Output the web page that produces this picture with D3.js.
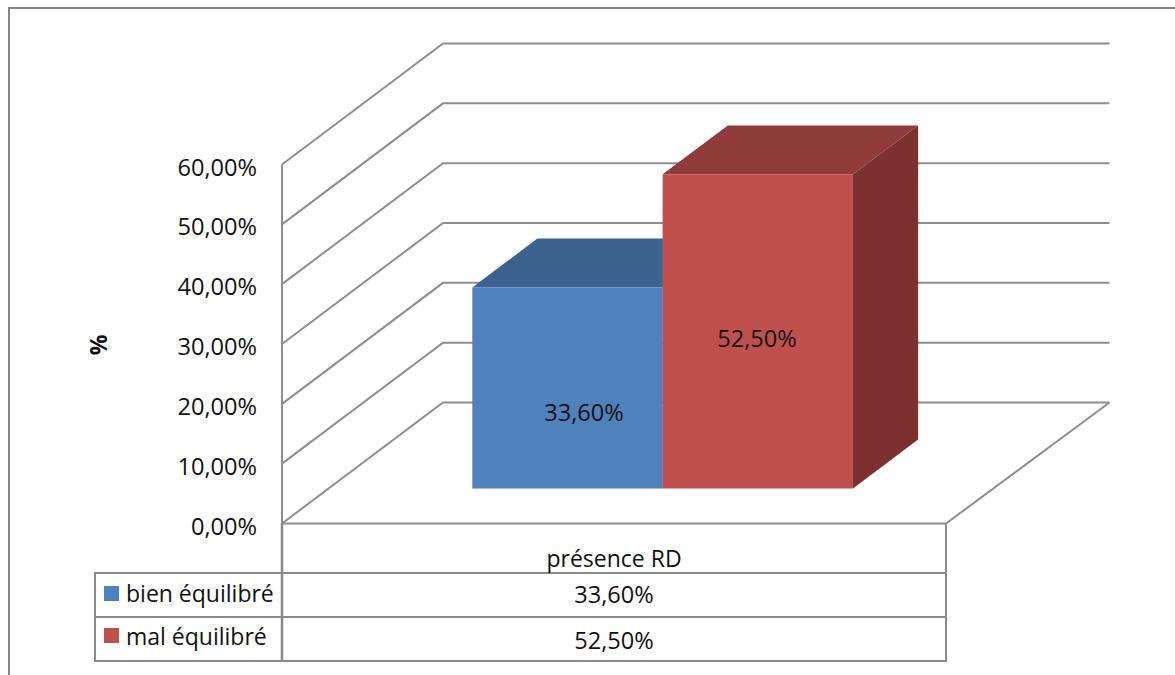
<!DOCTYPE html>
<html><head><meta charset="utf-8">
<script src="https://cdn.jsdelivr.net/npm/d3@7/dist/d3.min.js"></script>
<style>
html,body{margin:0;padding:0;background:#fff;overflow:hidden}
text{font-family:"Open Sans",sans-serif;fill:#111}
</style></head><body>
<script>
// Chart content
const categories = ["présence RD"];
const seriesNames = ["bien équilibré", "mal équilibré"];
const seriesValues = [33.6, 52.5];
const seriesLabels = ["33,60%", "52,50%"];
const tickValues = [0, 10, 20, 30, 40, 50, 60];
const tickLabels = ["0,00%", "10,00%", "20,00%", "30,00%", "40,00%", "50,00%", "60,00%"];
const faceColors = ["#4f81bd", "#c0504d"];
const topColors = ["#3c638f", "#903c3a"];
const sideColors = ["#315274", "#7c312f"];
const gridColor = "#8e8e8e";
const tableColor = "#8a8a8a";
const fontSize = 23;
const numberFontSize = 23.6;

const svg = d3.select("body").append("svg").attr("width", 1175).attr("height", 675);

// Height on the front wall plane, and an oblique projection for depth
const y = d3.scaleLinear().domain([0, 60]).range([523.5, 164.5]);
const floorX = d3.scaleLinear().domain([0, 1]).range([282, 946]);
const backX = d3.scaleLinear().domain([0, 1]).range([443, 1109.5]);
const depthX = d3.scaleLinear().domain([0, 1]).range([0, 161]);
const depthY = d3.scaleLinear().domain([0, 1]).range([0, -121]);
const project = (fx, v, d) => [floorX(fx) + depthX(d), y(v) + depthY(d)];
const line = d3.line();
const poly = pts => line(pts) + "Z";

// Outer frame
svg.append("path").attr("d", "M9,675V8H1175").attr("fill", "none")
  .attr("stroke", "#868686").attr("stroke-width", 2);

// Walls and floor
const walls = svg.append("g").attr("fill", "none").attr("stroke", gridColor).attr("stroke-width", 2);
tickValues.forEach(t => {
  const backY = y(t) + depthY(1);
  walls.append("path").attr("d", line([project(0, t, 0), [backX(0), backY], [backX(1), backY]]));
});
walls.append("path").attr("d", line([project(0, 0, 0), project(0, 60, 0)]));
walls.append("path").attr("d", line([project(0, 0, 0), project(1, 0, 0), [backX(1), y(0) + depthY(1)]]));

// Value axis labels
svg.append("g").selectAll("text").data(tickValues).join("text")
  .attr("x", 257).attr("y", d => y(d) + 11)
  .attr("text-anchor", "end").attr("font-size", numberFontSize)
  .text((d, i) => tickLabels[i]);

svg.append("text").attr("transform", "translate(107,345) rotate(-90)")
  .attr("text-anchor", "middle").attr("font-size", fontSize).attr("font-weight", 700).text("%");

// Bars: the two series sit side by side in the single category
const band = d3.scaleBand().domain(seriesNames).range([0.2866, 0.8599]);
const zNear = 0.2893, zFar = 0.694;
const bars = svg.append("g").selectAll("g").data(seriesValues).join("g");
bars.each(function (v, i) {
  const g = d3.select(this);
  const x0 = band(seriesNames[i]) - depthX(zNear) / 664;
  const x1 = x0 + band.bandwidth();
  const p = (fx, val, d) => project(fx, val, d);
  g.append("path").attr("fill", topColors[i])
    .attr("d", poly([p(x0, v, zNear), p(x1, v, zNear), p(x1, v, zFar), p(x0, v, zFar)]));
  g.append("path").attr("fill", sideColors[i])
    .attr("d", poly([p(x1, 0, zNear), p(x1, v, zNear), p(x1, v, zFar), p(x1, 0, zFar)]));
  g.append("path").attr("fill", faceColors[i])
    .attr("d", poly([p(x0, 0, zNear), p(x1, 0, zNear), p(x1, v, zNear), p(x0, v, zNear)]));
});

// Data labels on the bar faces
svg.append("text").attr("x", 584).attr("y", 421).attr("text-anchor", "middle")
  .attr("font-size", numberFontSize).text(seriesLabels[0]);
svg.append("text").attr("x", 757).attr("y", 347).attr("text-anchor", "middle")
  .attr("font-size", numberFontSize).text(seriesLabels[1]);

// Data table below the plot
const tableRows = [573, 617, 661];
const table = svg.append("g").attr("fill", "none").attr("stroke", tableColor).attr("stroke-width", 2);
table.append("path").attr("d", "M282,523V662").attr("stroke-width", 2.5);
table.append("path").attr("d", "M946,523V662");
table.append("path").attr("d", "M95,572V662");
tableRows.forEach(r => table.append("path").attr("d", `M95,${r}H946`));

svg.append("text").attr("x", 614).attr("y", 567).attr("text-anchor", "middle")
  .attr("font-size", fontSize).text(categories[0]);
seriesNames.forEach((name, i) => {
  const cy = 595 + i * 44;
  svg.append("rect").attr("x", 104).attr("y", cy - 9 - (i ? 2 : 0)).attr("width", 15).attr("height", 15)
    .attr("fill", faceColors[i]);
  svg.append("text").attr("x", 126).attr("y", cy + 7 - (i ? 1 : 0)).attr("font-size", fontSize).text(name);
  svg.append("text").attr("x", 614).attr("y", cy + 8 + (i ? 2 : 0)).attr("text-anchor", "middle")
    .attr("font-size", numberFontSize).text(seriesLabels[i]);
});
</script>
</body></html>
